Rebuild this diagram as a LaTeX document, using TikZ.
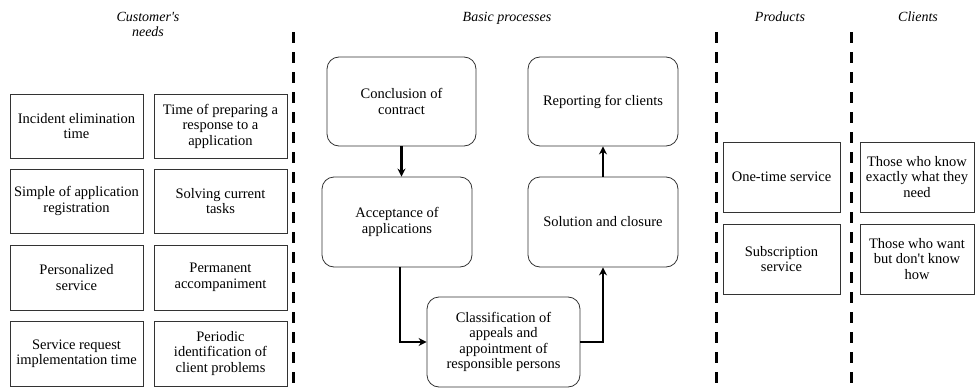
\documentclass[tikz,border=0pt]{standalone}
\usepackage{fontspec}
\setmainfont{Liberation Serif}[Ligatures=TeXOff]
\usetikzlibrary{arrows.meta}
\begin{document}
\begin{tikzpicture}[x=1pt,y=-1pt,
  every node/.style={inner sep=2pt, align=center, font=\fontsize{14.5}{15.5}\selectfont},
  sqbox/.style={draw=black!80, line width=0.8pt, rectangle},
  procbox/.style={draw=black!80, line width=0.8pt, rectangle, rounded corners=12pt, minimum width=150pt, minimum height=90pt},
  ttl/.style={font=\fontsize{14}{15}\selectfont\itshape},
  sep/.style={line width=3pt, dash pattern=on 11pt off 9pt},
  flow/.style={line width=2.6pt, -{Stealth[length=8pt,width=8pt]}}
]
\useasboundingbox (0,0) rectangle (975,388);
% titles
\node[ttl] (t1) at (148,24) {Customer's\\needs};
\node[ttl] (t2) at (507,18) {Basic processes};
\node[ttl] (t3) at (780,17) {Products};
\node[ttl] (t4) at (918,17) {Clients};
% separators
\coordinate (s1a) at (293,32); \coordinate (s1b) at (293,388);
\coordinate (s2a) at (716,32); \coordinate (s2b) at (716,388);
\coordinate (s3a) at (851,32); \coordinate (s3b) at (851,388);
\draw[sep] (s1a) -- (s1b);
\draw[sep] (s2a) -- (s2b);
\draw[sep] (s3a) -- (s3b);
% customer's needs
\node[sqbox, minimum width=133pt, minimum height=64pt] (n1) at (76.5,126) {Incident elimination\\time};
\node[sqbox, minimum width=133pt, minimum height=64pt] (n2) at (220.5,126) {Time of preparing a\\response to a\\application};
\node[sqbox, minimum width=133pt, minimum height=64pt] (n3) at (76.5,201) {Simple of application\\registration};
\node[sqbox, minimum width=133pt, minimum height=64pt] (n4) at (220.5,201) {Solving current\\tasks};
\node[sqbox, minimum width=133pt, minimum height=65pt] (n5) at (76.5,277.5) {Personalized\\service};
\node[sqbox, minimum width=133pt, minimum height=65pt] (n6) at (220.5,277.5) {Permanent\\accompaniment};
\node[sqbox, minimum width=133pt, minimum height=65pt] (n7) at (76.5,353.5) {Service request\\implementation time};
\node[sqbox, minimum width=133pt, minimum height=65pt] (n8) at (220.5,353.5) {Periodic\\identification of\\client problems};
% processes
\node[procbox, minimum width=149pt, minimum height=89pt] (conc) at (401.5,101.5) {Conclusion of\\contract};
\node[procbox, minimum height=89pt] (rep) at (603,101.5) {Reporting for clients};
\node[procbox] (acc) at (397,222) {Acceptance of\\applications};
\node[procbox] (sol) at (603,222) {Solution and closure};
\node[procbox, minimum width=153pt] (cls) at (503.5,342) {Classification of\\appeals and\\appointment of\\responsible persons};
\draw[flow] (conc.south) -- (conc.south |- acc.north);
\draw[flow] ([xshift=3pt]acc.south) |- (cls.west);
\draw[flow] (cls.east) -| (sol.south);
\draw[flow] (sol.north) -- (rep.south);
% products
\node[sqbox, minimum width=117pt, minimum height=70pt] (p1) at (781.5,177) {One-time service};
\node[sqbox, minimum width=117pt, minimum height=70pt] (p2) at (781.5,259) {Subscription\\service};
% clients
\node[sqbox, minimum width=114pt, minimum height=70pt] (c1) at (917,177) {Those who know\\exactly what they\\need};
\node[sqbox, minimum width=114pt, minimum height=70pt] (c2) at (917,259) {Those who want\\but don't know\\how};
\end{tikzpicture}
\end{document}
